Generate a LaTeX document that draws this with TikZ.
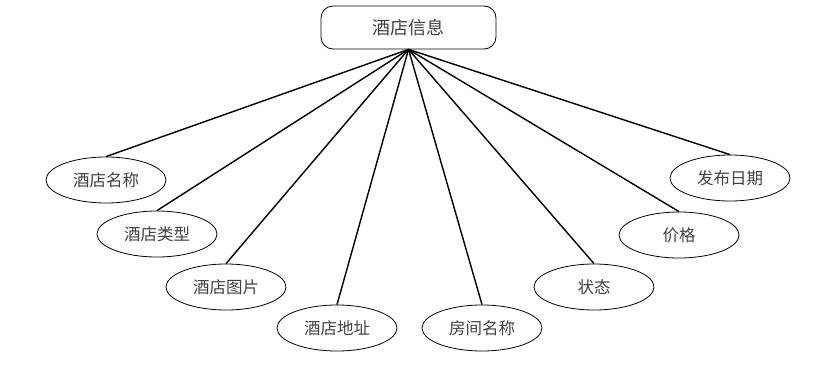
\documentclass[tikz,border=0pt]{standalone}
\usepackage{fontspec}
\newfontfamily\cjk{Noto Sans CJK SC}
\usetikzlibrary{shapes.geometric}
\begin{document}
\begin{tikzpicture}[x=1pt,y=-1pt,
  attr/.style={draw, ellipse, line width=0.8pt, minimum width=120pt, minimum height=46pt, inner sep=0pt, font=\cjk\fontsize{16.5}{16.5}\selectfont, text=black!75},
  ent/.style={draw, rounded corners=12pt, line width=0.8pt, minimum width=175pt, minimum height=43pt, inner sep=0pt, font=\cjk\fontsize{18}{18}\selectfont, text=black!75},
  link/.style={line width=1.4pt}]
\useasboundingbox (0,0) rectangle (827,369);
\node[ent] (top) at (408.5,27.5) {酒店信息};
\node[attr] (a1) at (106,180) {酒店名称};
\node[attr] (a2) at (157,234) {酒店类型};
\node[attr] (a3) at (226,287) {酒店图片};
\node[attr] (a4) at (337,328) {酒店地址};
\node[attr] (a5) at (482,328) {房间名称};
\node[attr] (a6) at (594,287) {状态};
\node[attr] (a7) at (679,235) {价格};
\node[attr] (a8) at (730,178) {发布日期};
\foreach \n in {a1,a2,a3,a4,a5,a6,a7,a8}
  \draw[link] (top.south) -- (\n.north);
\end{tikzpicture}
\end{document}
